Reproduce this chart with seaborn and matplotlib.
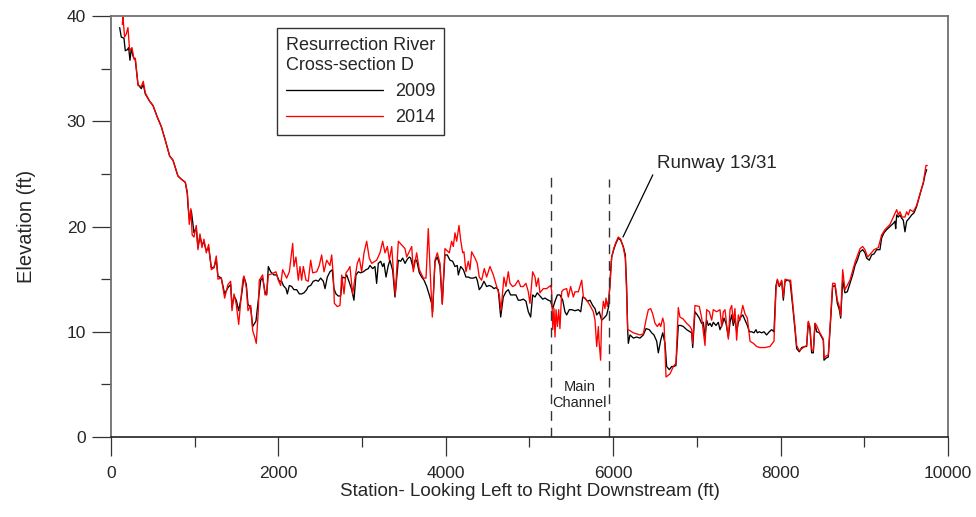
import numpy as np
import pandas as pd
import matplotlib
matplotlib.use("Agg")
import matplotlib.pyplot as plt
import seaborn as sns
from matplotlib.ticker import MultipleLocator

# ---- data ----
station_2009 = [104,123,155,171,195,211,227,243,267,291,323,362,386,410,462,502,553,601,649,701,741,800,840,888,912,920,940,960,992,1019,1039,1063,1087,1111,1139,1167,1199,1231,1258,1278,1318,1358,1398,1430,1446,1470,1497,1526,1557,1589,1617,1637,1669,1693,1732,1760,1789,1812,1840,1860,1880,1908,1947,1980,2011,2039,2059,2091,2107,2131,2159,2186,2219,2250,2278,2306,2338,2357,2386,2417,2449,2477,2505,2537,2557,2585,2616,2644,2664,2688,2716,2744,2768,2796,2816,2843,2876,2903,2927,2955,2983,3015,3047,3074,3094,3127,3154,3174,3194,3222,3246,3262,3286,3313,3333,3366,3393,3433,3461,3485,3513,3541,3565,3580,3612,3632,3652,3684,3712,3740,3772,3803,3831,3843,3871,3899,3931,3958,3990,4018,4050,4082,4110,4137,4150,4178,4210,4241,4269,4297,4329,4361,4376,4400,4428,4456,4488,4520,4548,4576,4600,4627,4656,4687,4719,4747,4774,4806,4838,4866,4894,4926,4958,4986,5014,5038,5066,5093,5125,5158,5185,5225,5253,5278,5305,5333,5364,5397,5424,5444,5476,5504,5544,5584,5612,5636,5663,5691,5723,5755,5783,5803,5834,5862,5890,5922,5946,5962,5982,6010,6033,6061,6090,6121,6145,6161,6173,6181,6201,6241,6281,6320,6360,6392,6432,6460,6487,6520,6539,6568,6592,6619,6639,6671,6699,6726,6750,6778,6807,6838,6878,6918,6938,6950,6977,7005,7029,7057,7077,7097,7117,7137,7157,7177,7196,7228,7256,7276,7308,7324,7348,7376,7396,7416,7435,7455,7475,7495,7524,7548,7575,7603,7627,7655,7682,7706,7722,7746,7774,7802,7833,7865,7893,7921,7945,7961,7985,8013,8033,8053,8081,8113,8145,8172,8192,8224,8252,8292,8311,8331,8351,8371,8391,8411,8431,8463,8491,8511,8519,8543,8570,8598,8622,8650,8678,8702,8718,8742,8769,8797,8829,8861,8889,8917,8949,8981,9008,9028,9060,9088,9116,9148,9187,9207,9235,9267,9307,9347,9367,9375,9387,9406,9426,9446,9466,9486,9506,9538,9566,9594,9625,9657,9685,9705,9725,9745]
elev_2009 = [38.9,38.0,37.9,36.7,36.8,37.0,35.8,36.9,36.1,35.8,33.5,33.1,33.5,32.6,31.9,31.5,30.4,29.5,28.2,26.7,26.3,24.8,24.5,24.2,23.1,22.0,20.6,21.5,19.4,19.9,18.0,19.1,18.3,18.5,17.7,18.0,16.1,16.1,16.9,15.3,15.1,13.6,14.2,14.5,12.3,13.4,13.0,12.0,13.3,15.2,14.5,12.6,12.3,10.5,11.0,13.0,14.9,15.1,13.8,13.5,16.2,15.7,15.4,15.4,14.8,14.8,14.4,14.1,13.6,14.4,14.3,14.0,14.0,13.6,13.6,13.7,14.0,14.3,14.4,14.8,14.9,14.8,15.1,14.8,14.1,15.2,15.7,15.9,14.1,13.6,13.4,13.4,15.2,15.1,15.4,14.8,14.0,13.0,15.4,15.7,15.6,15.7,15.9,16.0,16.3,16.0,16.2,14.6,16.5,16.7,16.2,16.5,15.2,16.3,16.8,15.8,13.3,16.8,16.7,17.0,16.5,16.9,17.1,17.0,16.0,16.8,16.8,15.6,15.2,14.9,14.3,13.5,12.7,11.9,16.7,17.1,16.2,12.7,17.3,17.3,16.8,16.7,16.2,16.3,15.4,16.2,15.9,15.2,15.2,15.1,15.1,15.2,14.9,14.0,14.3,14.8,14.3,14.4,14.3,14.1,14.2,14.0,11.4,13.3,13.8,14.0,13.5,13.5,13.5,13.0,13.0,13.1,12.9,11.9,11.4,13.5,13.3,13.7,13.4,13.1,13.2,13.0,12.9,12.2,12.9,13.5,13.5,13.0,11.9,11.6,12.1,12.1,12.0,12.1,11.9,13.3,13.2,12.9,13.0,12.5,12.2,11.6,11.9,11.1,11.3,11.6,12.4,14.9,17.1,17.9,18.4,18.9,18.7,18.1,17.3,14.3,10.2,8.9,9.7,9.4,9.5,9.4,9.7,10.3,10.2,9.9,9.7,9.1,8.0,9.2,9.9,8.9,6.7,6.4,6.7,6.7,6.8,10.6,10.6,10.5,10.2,10.0,9.9,8.5,11.9,11.6,11.3,10.8,10.9,9.5,11.1,10.6,10.8,10.5,10.9,10.6,10.9,10.2,10.8,11.3,10.8,9.5,10.9,11.6,10.6,11.3,10.0,10.9,11.4,11.6,11.1,10.6,10.0,10.0,9.9,10.2,9.9,10.0,9.9,10.0,9.7,10.0,10.2,10.0,14.4,14.9,14.3,14.8,13.0,14.8,14.9,14.8,12.4,10.2,8.4,8.1,8.5,8.6,8.6,10.9,10.2,8.0,8.0,10.8,10.0,9.9,9.5,9.2,7.3,7.5,7.6,11.1,14.3,14.4,12.7,12.1,11.3,14.9,13.7,13.8,14.6,15.4,16.3,16.8,17.6,17.8,17.5,17.0,16.8,17.3,17.4,17.8,17.8,18.9,19.4,19.7,20.0,20.3,20.5,19.8,21.1,20.9,21.1,20.8,20.6,19.5,20.5,20.8,21.1,21.3,21.9,22.8,23.6,24.1,24.9,25.4]

station_2014 = [135,143,163,183,203,223,251,275,291,323,362,386,410,462,502,553,601,649,701,741,800,840,888,912,920,935,955,970,992,1019,1039,1063,1087,1111,1139,1167,1199,1231,1258,1278,1318,1358,1398,1430,1446,1470,1497,1526,1557,1577,1589,1617,1637,1669,1693,1717,1736,1760,1772,1812,1840,1860,1880,1920,1971,1999,2027,2051,2099,2131,2171,2186,2210,2238,2258,2278,2298,2330,2357,2386,2410,2458,2489,2517,2545,2577,2616,2637,2657,2669,2704,2736,2757,2784,2808,2836,2855,2887,2915,2943,2967,2995,3023,3055,3086,3115,3154,3174,3214,3246,3274,3302,3326,3354,3381,3397,3433,3513,3533,3593,3612,3652,3684,3732,3764,3791,3811,3839,3871,3899,3931,3958,3990,4042,4070,4090,4110,4130,4158,4178,4202,4217,4241,4269,4289,4309,4349,4376,4400,4428,4460,4488,4528,4568,4608,4640,4659,4695,4719,4747,4767,4798,4826,4866,4894,4926,4958,4986,5006,5038,5066,5082,5106,5125,5165,5205,5253,5265,5278,5293,5305,5317,5333,5349,5364,5385,5405,5444,5464,5492,5524,5544,5584,5624,5644,5683,5723,5763,5783,5803,5823,5830,5850,5862,5882,5902,5914,5930,5946,5962,5982,6010,6033,6061,6090,6121,6145,6161,6173,6181,6241,6320,6360,6392,6420,6448,6472,6500,6528,6552,6568,6592,6608,6619,6631,6679,6719,6750,6778,6797,6838,6878,6918,6938,6950,6977,7029,7057,7097,7117,7149,7177,7196,7236,7276,7296,7316,7336,7356,7376,7396,7416,7435,7455,7475,7495,7515,7548,7575,7603,7635,7675,7714,7754,7813,7873,7921,7945,7961,7985,8013,8033,8053,8093,8120,8145,8172,8192,8224,8272,8311,8331,8351,8371,8391,8411,8431,8463,8491,8511,8519,8543,8570,8598,8622,8650,8678,8702,8718,8742,8769,8829,8889,8949,8981,9008,9040,9075,9116,9168,9207,9247,9307,9387,9406,9426,9452,9486,9506,9526,9546,9586,9625,9665,9705,9737,9753]
elev_2014 = [39.2,39.9,38.0,38.3,38.9,36.7,37.0,35.9,36.0,33.4,33.3,33.8,32.7,31.9,31.5,30.4,29.5,28.2,26.7,26.3,24.8,24.5,24.2,23.3,22.3,20.2,21.7,19.2,19.0,20.1,17.8,19.3,18.0,18.8,17.5,18.3,15.9,16.1,17.2,15.0,15.1,13.2,14.5,14.8,12.0,13.6,12.6,10.7,13.5,15.0,15.3,14.2,12.0,12.5,10.1,9.5,8.9,12.0,14.9,15.4,13.5,13.6,15.4,15.5,15.7,14.9,14.4,15.9,15.1,15.7,18.4,16.2,17.1,14.9,16.2,14.9,16.2,14.9,14.8,16.8,15.6,15.7,16.3,17.3,15.7,16.8,16.3,17.3,15.2,12.7,12.4,12.5,15.4,13.6,15.6,15.9,16.2,13.6,15.1,16.5,17.0,15.7,17.5,18.6,17.0,16.5,16.7,16.8,17.5,18.6,17.5,18.1,16.8,18.1,14.9,13.5,18.6,17.9,17.1,18.1,15.7,17.5,15.9,15.1,15.1,19.8,16.2,11.4,16.8,17.5,16.5,12.6,17.9,17.5,18.6,18.1,19.4,18.6,20.1,18.7,17.5,17.6,15.7,16.7,15.9,17.6,17.0,16.5,15.2,14.9,16.0,15.2,16.2,15.4,14.3,13.5,12.0,15.2,14.3,15.7,14.6,14.3,14.4,14.9,14.3,14.3,14.6,13.8,12.7,15.7,15.2,14.3,15.1,13.7,14.1,14.1,14.4,13.9,10.2,12.2,9.5,12.1,10.5,12.1,10.3,13.8,14.0,14.1,13.3,14.3,13.3,13.8,13.8,14.9,13.3,13.0,12.5,11.9,11.1,8.6,10.5,9.2,7.3,11.1,12.9,12.2,13.2,12.4,13.1,14.3,17.1,18.0,18.5,19.0,18.8,18.0,17.0,13.5,10.2,10.2,9.9,9.7,9.8,11.1,12.1,12.2,11.7,10.8,10.5,10.8,10.5,11.3,10.8,8.3,5.7,6.0,6.7,7.0,12.3,11.4,11.2,10.8,10.5,10.2,8.9,12.5,12.4,11.3,8.7,12.1,11.9,11.1,12.1,11.9,12.1,10.5,11.9,12.1,10.6,9.3,12.1,12.5,10.9,12.2,9.2,11.6,11.1,12.5,11.7,11.3,9.1,8.9,8.6,8.5,8.5,8.6,9.1,13.9,15.0,14.4,14.9,13.3,15.0,14.9,14.9,12.7,10.5,8.7,8.2,8.5,8.7,11.0,10.5,8.3,8.2,10.8,10.6,10.0,9.6,9.3,7.5,7.7,7.8,11.5,14.6,14.6,13.0,12.4,11.5,15.9,14.0,14.9,16.6,17.9,18.1,17.8,17.1,17.4,17.8,18.0,19.2,19.7,20.2,21.6,21.1,21.4,20.9,20.9,21.4,21.1,21.6,21.4,22.0,23.1,24.2,25.8,25.8]

channel_bounds = [5253, 5946]
channel_tops = [25.1, 24.5]
runway_peak = (6117, 19.0)
runway_label_pos = (6520, 26.0)

df = pd.concat([
    pd.DataFrame({"Station": station_2009, "Elevation": elev_2009, "Year": "2009"}),
    pd.DataFrame({"Station": station_2014, "Elevation": elev_2014, "Year": "2014"}),
], ignore_index=True)

sns.set_theme(style="white")
plt.rcParams["font.family"] = ["Liberation Sans", "DejaVu Sans"]

fig = plt.figure(figsize=(9.76, 5.17), dpi=100)
ax = fig.add_axes([0.1137, 0.1547, 0.8576, 0.8143])

sns.lineplot(data=df, x="Station", y="Elevation", hue="Year",
             palette={"2009": "black", "2014": "#ff0000"},
             estimator=None, sort=False, linewidth=0.95, ax=ax)

# main channel markers
for xb, top in zip(channel_bounds, channel_tops):
    ax.plot([xb, xb], [0, top], color="#333333", lw=1.0, ls=(0, (7, 5)))
ax.text(np.mean(channel_bounds), 4.75, "Main", ha="center", va="center", fontsize=10.5, color="#222222")
ax.text(np.mean(channel_bounds), 3.2, "Channel", ha="center", va="center", fontsize=10.5, color="#222222")

ax.annotate("Runway 13/31", xy=runway_peak, xytext=runway_label_pos,
            fontsize=13.5, va="center", ha="left",
            arrowprops=dict(arrowstyle="-", color="black", lw=0.9,
                            shrinkA=1, shrinkB=0, relpos=(0.0, 0.3)))

ax.set_xlim(0, 10000)
ax.set_ylim(0, 40)
ax.xaxis.set_major_locator(MultipleLocator(2000))
ax.xaxis.set_minor_locator(MultipleLocator(1000))
ax.yaxis.set_major_locator(MultipleLocator(10))
ax.yaxis.set_minor_locator(MultipleLocator(5))
ax.tick_params(axis="x", which="major", direction="out", length=14, width=0.9,
               color="#333333", labelsize=12.5, bottom=True, pad=7)
ax.tick_params(axis="y", which="major", direction="out", length=14, width=0.9,
               color="#333333", labelsize=12.5, left=True, pad=4)
ax.tick_params(axis="both", which="minor", direction="out", length=7, width=0.9,
               color="#333333", bottom=True, left=True)
ax.set_xlabel("Station- Looking Left to Right Downstream (ft)", fontsize=13.5, labelpad=1)
ax.set_ylabel("Elevation (ft)", fontsize=14.5, labelpad=22)

for s in ["left", "right", "top"]:
    ax.spines[s].set_color("#707070")
    ax.spines[s].set_linewidth(1.3)
ax.spines["bottom"].set_color("#222222")
ax.spines["bottom"].set_linewidth(1.2)

handles, labels = ax.get_legend_handles_labels()
leg = ax.legend(handles, labels, title="Resurrection River\nCross-section D",
                loc="upper left", bbox_to_anchor=(0.198, 0.971), borderaxespad=0,
                frameon=True, fancybox=False, edgecolor="black",
                fontsize=13, title_fontsize=13, handlelength=5.4,
                handletextpad=0.65, borderpad=0.5, labelspacing=0.5,
                alignment="left")
leg.get_frame().set_linewidth(1.0)
for h in leg.get_lines():
    h.set_linewidth(0.95)

fig.savefig("out.png", dpi=100, facecolor="white")
